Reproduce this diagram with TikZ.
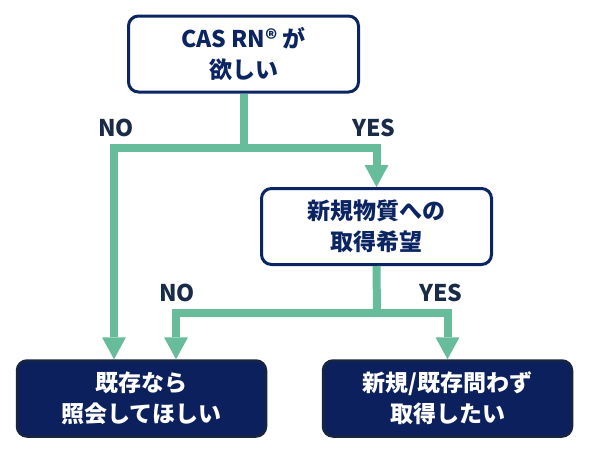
\documentclass[tikz,border=0pt]{standalone}
\usepackage{fontspec}
\setmainfont{Noto Sans CJK JP}
\usetikzlibrary{arrows.meta}
\definecolor{flowgreen}{HTML}{67BC9C}
\definecolor{boxnavy}{HTML}{0B2462}
\definecolor{endfill}{HTML}{0C205D}
\definecolor{enddraw}{HTML}{172640}
\definecolor{labelnavy}{HTML}{1A2B48}

\begin{document}
\begin{tikzpicture}[x=1pt,y=-1pt,
  question/.style={draw=boxnavy,line width=3pt,fill=white,rounded corners=10pt,
    minimum width=230pt,minimum height=76pt,align=center,text=boxnavy,
    font=\fontsize{23}{31}\selectfont\bfseries},
  answer/.style={draw=enddraw,line width=2.5pt,fill=endfill,rounded corners=10pt,
    minimum width=249pt,minimum height=76pt,align=center,text=white,
    font=\fontsize{23}{31}\selectfont\bfseries},
  flow/.style={draw=flowgreen,line width=8pt},
  flowarrow/.style={flow,-{Triangle[width=24pt,length=22pt,line width'=0pt]}},
  branch/.style={text=labelnavy,font=\fontsize{23}{28}\selectfont\bfseries}]
\useasboundingbox[fill=white] (0,0) rectangle (589,451);

\node[question] (want) at (243.5,54) {CAS RN® が\\欲しい};
\node[question] (apply) at (376.5,226.5) {新規物質への\\取得希望};
\node[answer] (inquire) at (141.5,398.5) {既存なら\\照会してほしい};
\node[answer] (obtain) at (447.5,398.5) {新規/既存問わず\\取得したい};

\coordinate (split1) at (243.5,148);
\coordinate (split2) at (377,313);

\draw[flow] (want.south) -- (split1);
\draw[flowarrow] (split1) -| ([xshift=-27.5pt]inquire.north);
\draw[flowarrow] (split1) -| (apply.north);
\draw[flow] (apply.south) -- (split2);
\draw[flowarrow] (split2) -| ([xshift=34.5pt]inquire.north);
\draw[flowarrow] (split2) -| (obtain.north);

\node[branch] (no1) at (116,128) {NO};
\node[branch] (yes1) at (374,128) {YES};
\node[branch] (no2) at (177,293) {NO};
\node[branch] (yes2) at (441,293) {YES};

\end{tikzpicture}
\end{document}
